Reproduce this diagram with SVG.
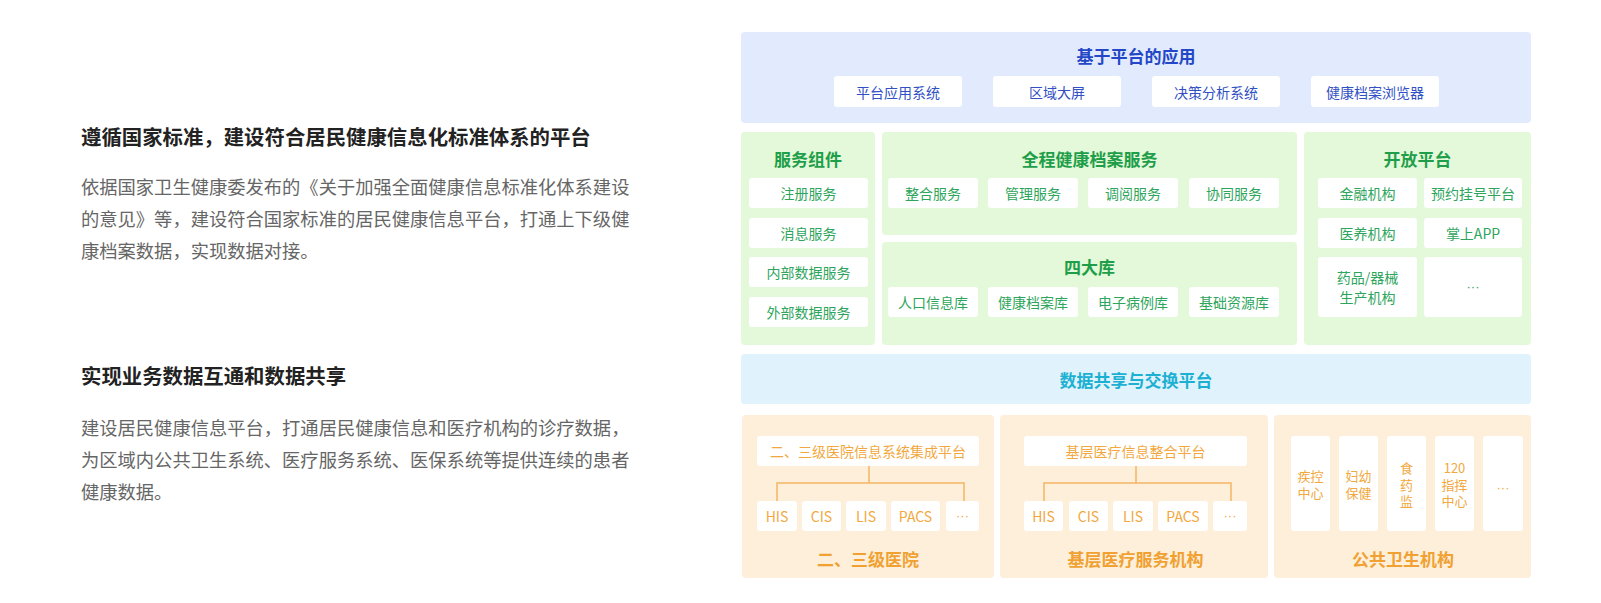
<svg xmlns="http://www.w3.org/2000/svg" width="1601" height="603" viewBox="0 0 1601 603">
<style>
text{font-family:"Noto Sans CJK SC","Noto Sans",sans-serif;dominant-baseline:central}
.h{font-size:20.4px;font-weight:bold;fill:#222}
.p{font-size:18.3px;fill:#666}
.bp{fill:#e2eafd}
.bt{font-size:17px;font-weight:bold;fill:#2347c6;text-anchor:middle}
.bi{font-size:14px;fill:#3150c4;text-anchor:middle}
.gp{fill:#e3f9d9}
.gt{font-size:17px;font-weight:bold;fill:#1f9e4a;text-anchor:middle}
.gi{font-size:14px;fill:#2ea55c;text-anchor:middle}
.cp{fill:#e0f3fd}
.ct{font-size:17px;font-weight:bold;fill:#1cb0d2;text-anchor:middle}
.op{fill:#fdefd9}
.ot{font-size:17px;font-weight:bold;fill:#f0a132;text-anchor:middle}
.oi{font-size:14px;fill:#f2a83e;text-anchor:middle}
.ov{font-size:13px;fill:#f2a83e;text-anchor:middle}
.dots{font-family:"Liberation Sans",sans-serif;font-size:13px}
.w{fill:#fff}
.ln{fill:none;stroke:#f4b763;stroke-width:1.5}
</style>
<rect width="1601" height="603" fill="#fff"/>
<g id="intro">
<text class="h" x="81" y="136">遵循国家标准，建设符合居民健康信息化标准体系的平台</text>
<text class="p" x="81" y="186">依据国家卫生健康委发布的《关于加强全面健康信息标准化体系建设</text>
<text class="p" x="81" y="218">的意见》等，建设符合国家标准的居民健康信息平台，打通上下级健</text>
<text class="p" x="81" y="250">康档案数据，实现数据对接。</text>
<text class="h" x="81" y="375">实现业务数据互通和数据共享</text>
<text class="p" x="81" y="427">建设居民健康信息平台，打通居民健康信息和医疗机构的诊疗数据，</text>
<text class="p" x="81" y="459">为区域内公共卫生系统、医疗服务系统、医保系统等提供连续的患者</text>
<text class="p" x="81" y="491">健康数据。</text>
</g>
<g id="apps">
<rect class="bp" x="741" y="32" width="790" height="91" rx="4"/>
<text class="bt" x="1136" y="55">基于平台的应用</text>
<rect class="w" x="834" y="76" width="128" height="31" rx="3"/><text class="bi" x="898" y="91.5">平台应用系统</text>
<rect class="w" x="993" y="76" width="128" height="31" rx="3"/><text class="bi" x="1057" y="91.5">区域大屏</text>
<rect class="w" x="1152" y="76" width="128" height="31" rx="3"/><text class="bi" x="1216" y="91.5">决策分析系统</text>
<rect class="w" x="1311" y="76" width="128" height="31" rx="3"/><text class="bi" x="1375" y="91.5">健康档案浏览器</text>
</g>
<g id="components">
<rect class="gp" x="741" y="132" width="134" height="213" rx="4"/>
<text class="gt" x="808" y="158">服务组件</text>
<rect class="w" x="749" y="178" width="119" height="30" rx="3"/><text class="gi" x="808.5" y="193">注册服务</text>
<rect class="w" x="749" y="218" width="119" height="30" rx="3"/><text class="gi" x="808.5" y="233">消息服务</text>
<rect class="w" x="749" y="257" width="119" height="30" rx="3"/><text class="gi" x="808.5" y="272">内部数据服务</text>
<rect class="w" x="749" y="297" width="119" height="30" rx="3"/><text class="gi" x="808.5" y="312">外部数据服务</text>
</g>
<g id="records">
<rect class="gp" x="882" y="132" width="415" height="103" rx="4"/>
<text class="gt" x="1089.5" y="158">全程健康档案服务</text>
<rect class="w" x="888" y="178" width="90" height="30" rx="3"/><text class="gi" x="933" y="193">整合服务</text>
<rect class="w" x="988" y="178" width="90" height="30" rx="3"/><text class="gi" x="1033" y="193">管理服务</text>
<rect class="w" x="1088" y="178" width="90" height="30" rx="3"/><text class="gi" x="1133" y="193">调阅服务</text>
<rect class="w" x="1189" y="178" width="90" height="30" rx="3"/><text class="gi" x="1234" y="193">协同服务</text>
</g>
<g id="libraries">
<rect class="gp" x="882" y="242" width="415" height="103" rx="4"/>
<text class="gt" x="1089.5" y="266">四大库</text>
<rect class="w" x="888" y="287" width="90" height="30" rx="3"/><text class="gi" x="933" y="302">人口信息库</text>
<rect class="w" x="988" y="287" width="90" height="30" rx="3"/><text class="gi" x="1033" y="302">健康档案库</text>
<rect class="w" x="1088" y="287" width="90" height="30" rx="3"/><text class="gi" x="1133" y="302">电子病例库</text>
<rect class="w" x="1189" y="287" width="90" height="30" rx="3"/><text class="gi" x="1234" y="302">基础资源库</text>
</g>
<g id="open">
<rect class="gp" x="1304" y="132" width="227" height="213" rx="4"/>
<text class="gt" x="1417.5" y="158">开放平台</text>
<rect class="w" x="1318" y="178" width="99" height="30" rx="3"/><text class="gi" x="1367.5" y="193">金融机构</text>
<rect class="w" x="1424" y="178" width="98" height="30" rx="3"/><text class="gi" x="1473" y="193">预约挂号平台</text>
<rect class="w" x="1318" y="218" width="99" height="30" rx="3"/><text class="gi" x="1367.5" y="233">医养机构</text>
<rect class="w" x="1424" y="218" width="98" height="30" rx="3"/><text class="gi" x="1473" y="233">掌上APP</text>
<rect class="w" x="1318" y="257" width="99" height="60" rx="3"/><text class="gi" x="1367.5" y="277">药品/器械</text><text class="gi" x="1367.5" y="297">生产机构</text>
<rect class="w" x="1424" y="257" width="98" height="60" rx="3"/><text class="gi dots" x="1473" y="286">···</text>
</g>
<g id="exchange">
<rect class="cp" x="741" y="354" width="790" height="50" rx="4"/>
<text class="ct" x="1136" y="379">数据共享与交换平台</text>
</g>
<g id="hospital">
<rect class="op" x="742" y="415" width="252" height="163" rx="4"/>
<rect class="w" x="757" y="436" width="222" height="30" rx="3"/><text class="oi" x="868" y="451">二、三级医院信息系统集成平台</text>
<rect class="w" x="757" y="501" width="40" height="30" rx="3"/><text class="oi" x="777" y="516">HIS</text>
<rect class="w" x="802" y="501" width="39" height="30" rx="3"/><text class="oi" x="821.5" y="516">CIS</text>
<rect class="w" x="846" y="501" width="40" height="30" rx="3"/><text class="oi" x="866" y="516">LIS</text>
<rect class="w" x="891" y="501" width="49" height="30" rx="3"/><text class="oi" x="915.5" y="516">PACS</text>
<rect class="w" x="946" y="501" width="33" height="30" rx="3"/><text class="oi dots" x="962.5" y="515">···</text>
<text class="ot" x="868" y="558">二、三级医院</text>
</g>
<g id="primary">
<rect class="op" x="1000" y="415" width="268" height="163" rx="4"/>
<rect class="w" x="1024" y="436" width="223" height="30" rx="3"/><text class="oi" x="1135.5" y="451">基层医疗信息整合平台</text>
<rect class="w" x="1024" y="501" width="39" height="30" rx="3"/><text class="oi" x="1043.5" y="516">HIS</text>
<rect class="w" x="1069" y="501" width="39" height="30" rx="3"/><text class="oi" x="1088.5" y="516">CIS</text>
<rect class="w" x="1113" y="501" width="40" height="30" rx="3"/><text class="oi" x="1133" y="516">LIS</text>
<rect class="w" x="1158" y="501" width="50" height="30" rx="3"/><text class="oi" x="1183" y="516">PACS</text>
<rect class="w" x="1213" y="501" width="34" height="30" rx="3"/><text class="oi dots" x="1230" y="515">···</text>
<text class="ot" x="1135.5" y="558">基层医疗服务机构</text>
</g>
<g id="public">
<rect class="op" x="1274" y="415" width="257" height="163" rx="4"/>
<rect class="w" x="1291" y="436" width="39" height="95" rx="3"/><text class="ov" x="1310.5" y="475.5">疾控</text><text class="ov" x="1310.5" y="492.5">中心</text>
<rect class="w" x="1339" y="436" width="39" height="95" rx="3"/><text class="ov" x="1358.5" y="475.5">妇幼</text><text class="ov" x="1358.5" y="492.5">保健</text>
<rect class="w" x="1387" y="436" width="39" height="95" rx="3"/><text class="ov" x="1406.5" y="467.5">食</text><text class="ov" x="1406.5" y="484">药</text><text class="ov" x="1406.5" y="500.5">监</text>
<rect class="w" x="1435" y="436" width="39" height="95" rx="3"/><text class="ov" x="1454.5" y="467.5">120</text><text class="ov" x="1454.5" y="484">指挥</text><text class="ov" x="1454.5" y="500.5">中心</text>
<rect class="w" x="1483" y="436" width="40" height="95" rx="3"/><text class="ov dots" x="1503" y="487">···</text>
<text class="ot" x="1403" y="558">公共卫生机构</text>
</g>
<g id="connectors">
<path class="ln" d="M869 466V483M777 501V483H964V501"/>
<path class="ln" d="M1136 466V483M1044 501V483H1231V501"/>
</g>
</svg>
